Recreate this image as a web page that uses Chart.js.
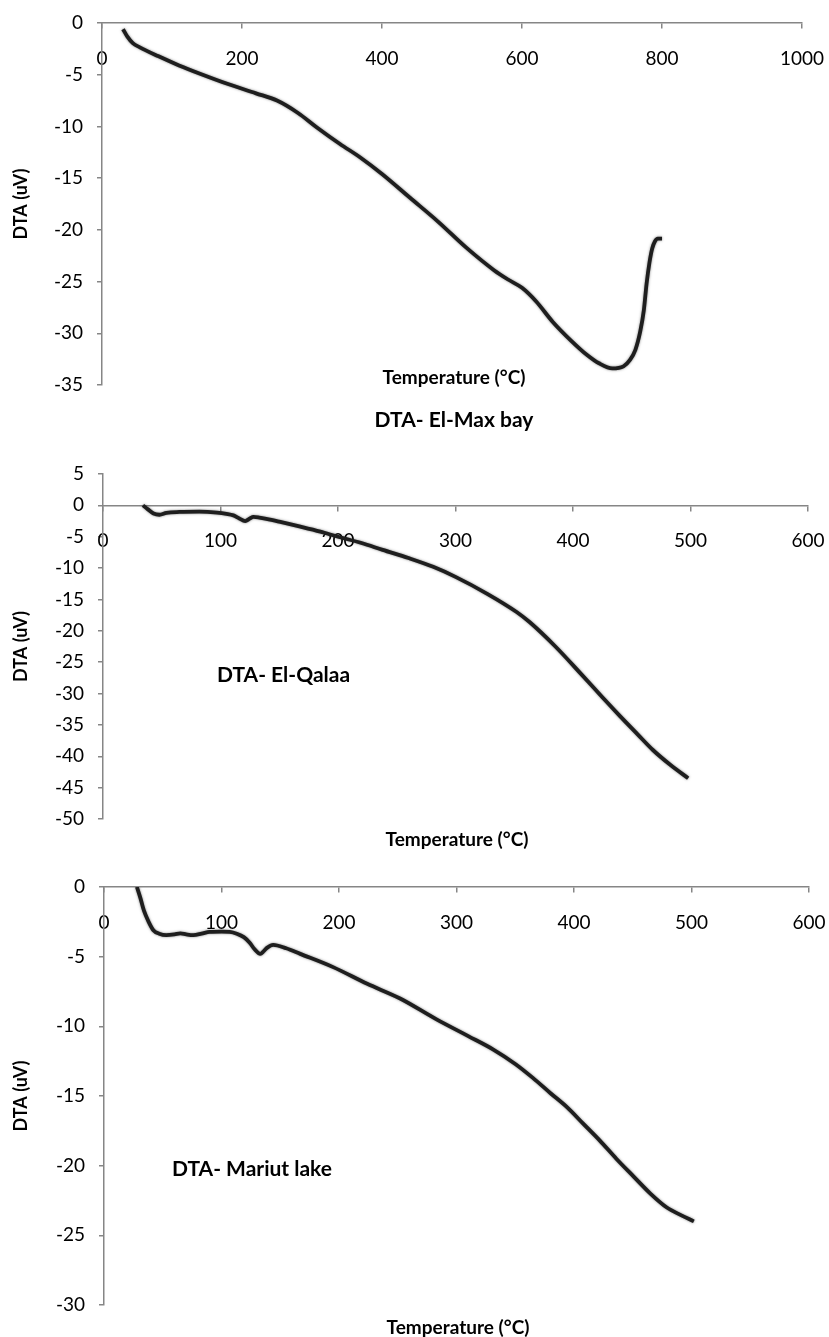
<!DOCTYPE html>
<html><head><meta charset="utf-8">
<script src="https://cdn.jsdelivr.net/npm/chart.js@4.4.0/dist/chart.umd.min.js"></script>
<style>
html,body{margin:0;padding:0;background:#fff;}
#page{position:relative;width:829px;height:1337px;overflow:hidden;font-family:Lato,'Open Sans',sans-serif;}
canvas{position:absolute;left:0;}
.t{position:absolute;font-weight:bold;color:#000;white-space:nowrap;line-height:1;font-family:Lato,'Open Sans',sans-serif;}
.c{transform:translate(-50%,-50%);}
.l{transform:translate(0,-50%);}
</style></head><body>
<div id="page">
<canvas id="c1" width="829" height="440" style="top:0"></canvas>
<canvas id="c2" width="829" height="420" style="top:440px"></canvas>
<canvas id="c3" width="829" height="477" style="top:860px"></canvas>
<div class="t c" style="left:454px;top:376px;font-size:19px">Temperature (°C)</div>
<div class="t c" style="left:454px;top:418px;font-size:21px">DTA- El-Max bay</div>
<div class="t l" style="left:217px;top:673px;font-size:21px">DTA- El-Qalaa</div>
<div class="t c" style="left:457px;top:838px;font-size:19px">Temperature (°C)</div>
<div class="t l" style="left:172px;top:1167px;font-size:21px">DTA- Mariut lake</div>
<div class="t c" style="left:458px;top:1326px;font-size:19px">Temperature (°C)</div>
</div>
<script>
// ---- Data: DTA- El-Max bay ----
const tempElMax = [30, 36, 44, 54, 80, 110, 140, 180, 220, 250, 280, 307, 340, 369, 400, 440, 480, 520, 560, 580, 600, 620, 644, 670, 693, 710, 729, 745, 754, 762, 769, 774, 778, 782, 786, 790, 794, 800];
const dtaElMax  = [-0.6, -1.3, -1.95, -2.35, -3.2, -4.1, -4.9, -5.9, -6.8, -7.5, -8.7, -10.1, -11.7, -13.0, -14.6, -16.9, -19.2, -21.7, -23.9, -24.8, -25.6, -26.9, -28.9, -30.7, -32.1, -32.9, -33.4, -33.2, -32.6, -31.6, -29.8, -27.8, -25.2, -23.2, -21.8, -21.1, -20.85, -20.85];
// ---- Data: DTA- El-Qalaa ----
const tempQalaa = [34, 38, 43, 48, 54, 65, 82, 97, 105, 111, 116, 121, 125, 128, 133, 139, 150, 168, 185, 200, 220, 238, 260, 281, 300, 327, 352, 363, 385, 406, 425, 440, 455, 468, 483, 498];
const dtaQalaa  = [0.0, -0.6, -1.3, -1.5, -1.2, -1.05, -1.0, -1.15, -1.35, -1.6, -2.1, -2.5, -2.1, -1.85, -1.95, -2.15, -2.6, -3.4, -4.2, -5.0, -6.0, -7.1, -8.4, -9.8, -11.4, -14.1, -17.0, -18.6, -22.5, -26.7, -30.6, -33.6, -36.5, -39.0, -41.4, -43.5];
// ---- Data: DTA- Mariut lake ----
const tempMariut = [28, 31, 34, 38, 42, 47, 53, 60, 65, 70, 76, 83, 90, 100, 107, 113, 119, 124, 128, 133, 136, 139, 144, 155, 167, 195, 224, 252, 283, 310, 331, 350, 365, 380, 394, 408, 422, 436, 451, 465, 479, 491, 502];
const dtaMariut  = [0.0, -0.8, -1.7, -2.5, -3.1, -3.35, -3.45, -3.4, -3.33, -3.4, -3.45, -3.35, -3.22, -3.2, -3.22, -3.35, -3.6, -4.0, -4.45, -4.8, -4.6, -4.35, -4.15, -4.4, -4.8, -5.75, -6.95, -8.0, -9.5, -10.7, -11.65, -12.7, -13.7, -14.8, -15.8, -17.0, -18.2, -19.5, -20.8, -22.0, -23.0, -23.55, -24.0];
// ---- Axis ranges / ticks ----
const xTicksElMax = {min: 0, max: 1000, step: 200};
const yTicksElMax = {min: -35, max: 0, step: 5};
const xTicksQalaa = {min: 0, max: 600, step: 100};
const yTicksQalaa = {min: -50, max: 5, step: 5};
const xTicksMariut = {min: 0, max: 600, step: 100};
const yTicksMariut = {min: -30, max: 0, step: 5};
const yTitle = 'DTA (uV)';

const AXIS = '#868686';
const FONT = "Lato, 'Open Sans', sans-serif";

function pts(xs, ys){ return xs.map((x,i)=>({x:x, y:ys[i]})); }

const haloPlugin = {
  id:'halo',
  beforeDatasetDraw(chart){ const c=chart.ctx; c.save(); c.shadowColor='rgba(0,0,0,0.5)'; c.shadowBlur=2.5; },
  afterDatasetDraw(chart){ chart.ctx.restore(); }
};

function make(id, xs, ys, xr, yr, pad, yW){
  new Chart(document.getElementById(id), {
    type:'line',
    data:{datasets:[{data:pts(xs,ys), borderColor:'#1e1e1e', borderWidth:3.8, pointRadius:0, cubicInterpolationMode:'monotone', fill:false}]},
    plugins:[haloPlugin],
    options:{
      responsive:false, animation:false, devicePixelRatio:1,
      layout:{padding:pad},
      plugins:{legend:{display:false}, tooltip:{enabled:false}, title:{display:false}},
      scales:{
        x:{type:'linear', position:{y:0}, min:xr.min, max:xr.max,
           ticks:{stepSize:xr.step, color:'#000', font:{family:FONT, size:19}, padding:19, maxRotation:0, autoSkip:false,
                  callback:(v)=>String(v)},
           grid:{drawOnChartArea:false, drawTicks:true, tickLength:5, color:AXIS, lineWidth:1.5},
           border:{display:true, color:AXIS, width:1.5},
           afterFit(s){ s.paddingLeft = 0; s.paddingRight = 0; }},
        y:{type:'linear', position:'left', min:yr.min, max:yr.max,
           ticks:{stepSize:yr.step, color:'#000', font:{family:FONT, size:19}, padding:14},
           grid:{drawOnChartArea:false, drawTicks:true, tickLength:5, color:AXIS, lineWidth:1.5},
           border:{display:true, color:AXIS, width:1.5},
           title:{display:true, text:yTitle, color:'#000', font:{family:FONT, size:18, weight:'bold'}, padding:{top:10, bottom:0}},
           afterFit(s){ s.width = yW; s.paddingTop = 0; s.paddingBottom = 0; }}
      }
    }
  });
}

make('c1', tempElMax, dtaElMax, xTicksElMax, yTicksElMax, {top:23, bottom:55, left:0, right:27}, 102);
make('c2', tempQalaa, dtaQalaa, xTicksQalaa, yTicksQalaa, {top:34, bottom:41, left:0, right:21}, 103);
make('c3', tempMariut, dtaMariut, xTicksMariut, yTicksMariut, {top:27, bottom:32, left:0, right:20}, 104);
</script>
</body></html>
